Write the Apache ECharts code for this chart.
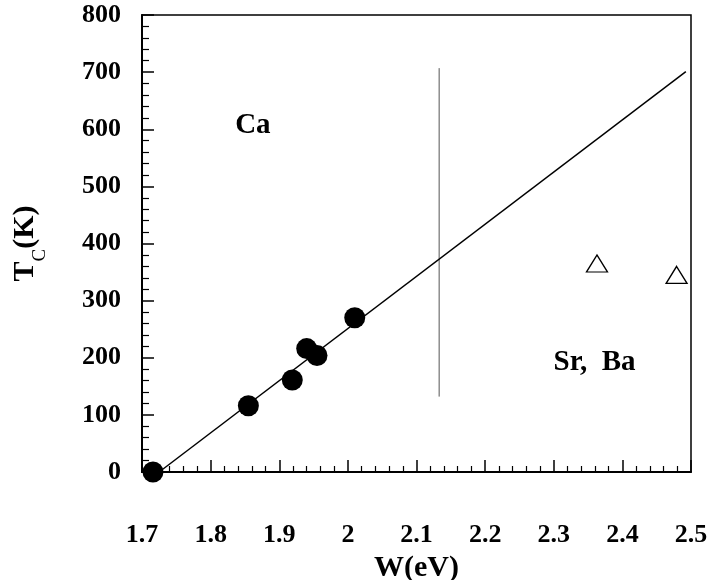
<!DOCTYPE html>
<html>
<head>
<meta charset="utf-8">
<script src="https://cdn.jsdelivr.net/npm/echarts@6/dist/echarts.min.js"></script>
<style>html,body{margin:0;padding:0;background:#fff;}#c{width:711px;height:580px;}</style>
</head>
<body>
<div id="c"></div>
<script>
// ---- data ----
var circleW = [1.716, 1.855, 1.919, 1.940, 1.955, 2.010];
var circleT = [0, 116, 161, 216, 204, 270];
var triW = [2.363, 2.479];
var triT = [365, 345];
var fitW = [1.725, 2.4925];
var fitT = [0, 701];
var vlineW = [2.133, 2.133];
var vlineT = [132, 707];
var xTickLabels = ['1.7', '1.8', '1.9', '2', '2.1', '2.2', '2.3', '2.4', '2.5'];
var yTickLabels = ['0', '100', '200', '300', '400', '500', '600', '700', '800'];
var annotW = [1.835, 2.299];
var annotT = [606, 191];
var annotText = ['Ca', 'Sr,  Ba'];

function pairs(xs, ys) { return xs.map(function (x, i) { return [x, ys[i]]; }); }

var FONT = '"Liberation Serif", "Times New Roman", serif';
var chart = echarts.init(document.getElementById('c'), null, { renderer: 'canvas' });
chart.setOption({
  animation: false,
  backgroundColor: '#fff',
  grid: {
    left: 142, right: 20, top: 15, bottom: 108, containLabel: false, outerBoundsMode: 'none',
    show: true, borderColor: '#000', borderWidth: 1.5
  },
  xAxis: {
    type: 'value', min: 1.7, max: 2.5, interval: 0.1,
    name: 'W(eV)', nameLocation: 'middle', nameGap: 77,
    nameTextStyle: { fontFamily: FONT, fontWeight: 'bold', fontSize: 30, color: '#000' },
    axisLine: { show: true, lineStyle: { color: '#000', width: 2 } },
    axisTick: { show: true, inside: true, length: 12, lineStyle: { color: '#000', width: 1.5 } },
    minorTick: { show: true, splitNumber: 5, length: 6, lineStyle: { color: '#000', width: 1.2 } },
    splitLine: { show: false },
    axisLabel: {
      margin: 50, fontFamily: FONT, fontWeight: 'bold', fontSize: 26, color: '#000',
      formatter: function (v) { return xTickLabels[Math.round((v - 1.7) / 0.1)]; }
    }
  },
  yAxis: {
    type: 'value', min: 0, max: 800, interval: 100,
    name: '{m|T}{sub|C}{m|(K)}', nameLocation: 'middle', nameGap: 92, nameRotate: 90,
    nameTextStyle: {
      fontFamily: FONT, fontWeight: 'bold', fontSize: 30, color: '#000',
      rich: {
        m: { fontFamily: FONT, fontWeight: 'bold', fontSize: 30, color: '#000', verticalAlign: 'top', lineHeight: 40 },
        sub: { fontFamily: FONT, fontWeight: 'normal', fontSize: 19, color: '#000', verticalAlign: 'bottom', lineHeight: 40 }
      }
    },
    axisLine: { show: true, lineStyle: { color: '#000', width: 2 } },
    axisTick: { show: true, inside: true, length: 12, lineStyle: { color: '#000', width: 1.5 } },
    minorTick: { show: true, splitNumber: 5, length: 7, lineStyle: { color: '#000', width: 1.2 } },
    splitLine: { show: false },
    axisLabel: {
      margin: 21, fontFamily: FONT, fontWeight: 'bold', fontSize: 26, color: '#000',
      formatter: function (v) { return yTickLabels[Math.round(v / 100)]; }
    }
  },
  series: [
    {
      type: 'line', data: pairs(vlineW, vlineT), showSymbol: false, symbol: 'none',
      lineStyle: { color: '#555', width: 1 }, z: 1
    },
    {
      type: 'line', data: pairs(fitW, fitT), showSymbol: false, symbol: 'none',
      lineStyle: { color: '#000', width: 1.5 }, z: 2
    },
    {
      type: 'scatter', data: pairs(circleW, circleT), symbol: 'circle', symbolSize: 21,
      itemStyle: { color: '#000', opacity: 1 }, z: 3
    },
    {
      type: 'scatter', data: pairs(triW, triT), symbol: 'triangle', symbolSize: [21, 17],
      itemStyle: { color: '#fff', borderColor: '#000', borderWidth: 1.3, opacity: 1 }, z: 3
    },
    {
      type: 'scatter', symbol: 'circle', symbolSize: 1, silent: true,
      itemStyle: { color: 'rgba(0,0,0,0)', opacity: 1 },
      data: annotW.map(function (w, i) { return { value: [w, annotT[i]], name: annotText[i] }; }),
      label: {
        show: true, position: 'right', distance: 0, align: 'left', verticalAlign: 'middle',
        fontFamily: FONT, fontWeight: 'bold', fontSize: 29, color: '#000',
        formatter: function (p) { return p.name; }
      }
    }
  ]
});
</script>
</body>
</html>
